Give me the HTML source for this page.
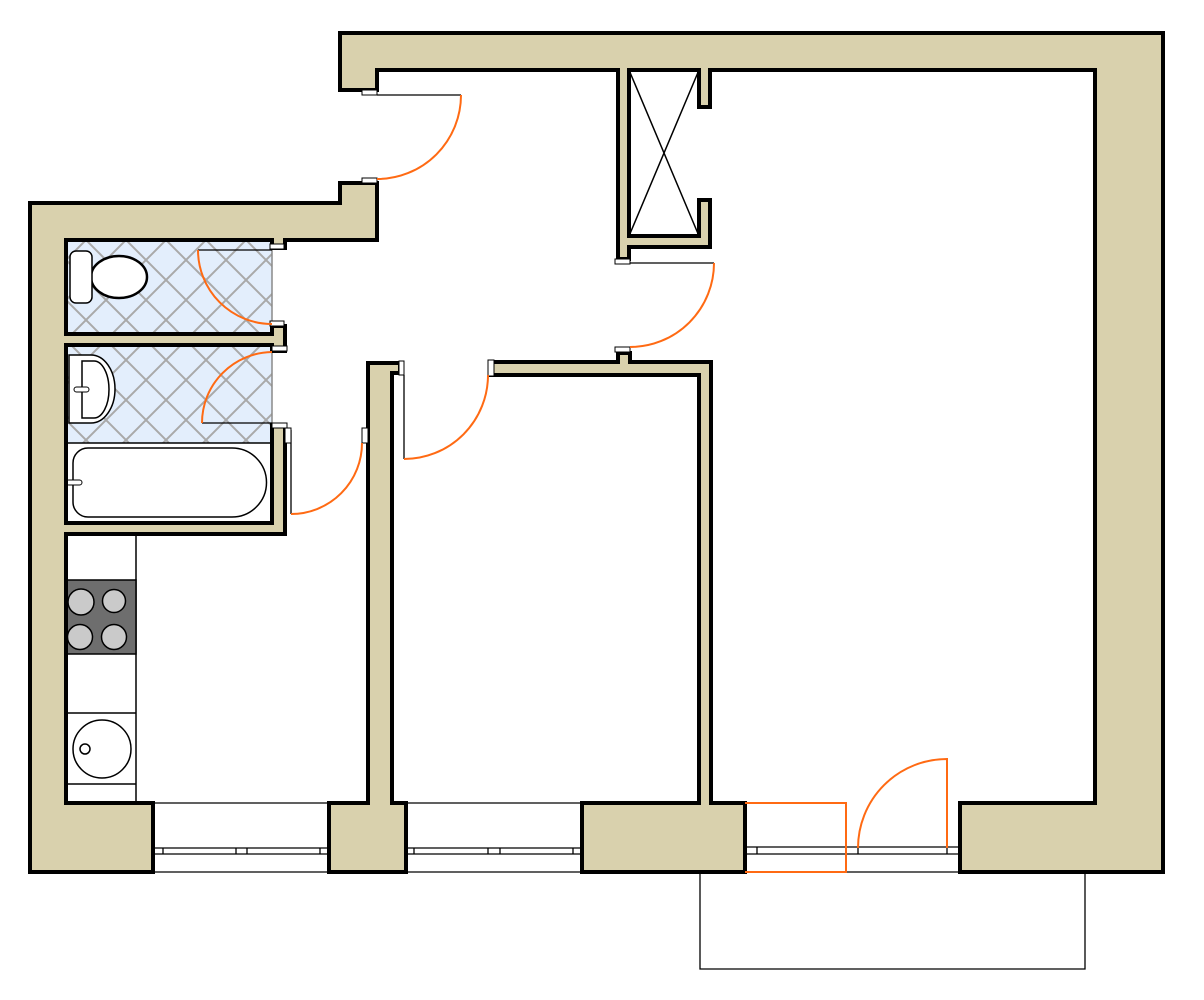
<!DOCTYPE html>
<html><head><meta charset="utf-8">
<style>html,body{margin:0;padding:0;background:#fff}svg{display:block}</style>
</head>
<body>
<svg width="1204" height="1000" viewBox="0 0 1204 1000" xmlns="http://www.w3.org/2000/svg">
<defs>
<pattern id="tile" patternUnits="userSpaceOnUse" width="40" height="40" x="6" y="0">
<rect width="40" height="40" fill="#e3eefc"/>
<path d="M-2 -2L42 42M42 -2L-2 42" stroke="#a9a9a9" stroke-width="2"/>
</pattern>
</defs>
<rect width="1204" height="1000" fill="#fff"/>

<!-- tiles -->
<rect x="66" y="240" width="206" height="94" fill="url(#tile)"/>
<rect x="66" y="345" width="206" height="98" fill="url(#tile)"/>
<path d="M272 246V328M272 349V428" stroke="#8a8a8a" stroke-width="1.5"/>

<!-- toilet -->
<ellipse cx="119" cy="277" rx="28" ry="21" fill="#fff" stroke="#000" stroke-width="2.5"/>
<rect x="70" y="251" width="22" height="52" rx="6" fill="#fff" stroke="#000" stroke-width="1.5"/>

<!-- sink -->
<path d="M69 355H91A24 34 0 0 1 91 423H69Z" fill="#fff" stroke="#000" stroke-width="1.5"/>
<path d="M82 361H94A15 28.5 0 0 1 94 418H82Z" fill="#fff" stroke="#000" stroke-width="1.5"/>
<rect x="74" y="387" width="15" height="5" rx="2.5" fill="#fff" stroke="#000" stroke-width="1"/>

<!-- bathtub -->
<rect x="66" y="443" width="206" height="80" fill="#fff" stroke="#000" stroke-width="1.5"/>
<path d="M88 448H232A34.5 34.5 0 0 1 232 517H88A15 15 0 0 1 73 502V463A15 15 0 0 1 88 448Z" fill="#fff" stroke="#000" stroke-width="1.5"/>
<rect x="66" y="480" width="16" height="5" rx="2.5" fill="#fff" stroke="#000" stroke-width="1"/>

<!-- kitchen counter -->
<g stroke="#000" stroke-width="1.5" fill="none">
<path d="M136 534V803"/>
<rect x="66" y="580" width="70" height="74" fill="#6e6e6e"/>
<path d="M66 713H136M66 784H136"/>
<circle cx="81" cy="602" r="13" fill="#cacaca"/>
<circle cx="114" cy="601" r="11.5" fill="#cacaca"/>
<circle cx="80" cy="637" r="12.5" fill="#cacaca"/>
<circle cx="114" cy="637" r="12.5" fill="#cacaca"/>
<circle cx="102" cy="749" r="29"/>
<circle cx="85" cy="749" r="5"/>
</g>

<!-- closet X -->
<path d="M629 70L699 236M699 70L629 236" stroke="#000" stroke-width="1.5"/>

<!-- walls -->
<g fill="#d9d1ad" stroke="#000" stroke-width="4" stroke-linejoin="miter">
<path d="M340 33H1163V872H960V803H1095V70H710V107H699V70H629V236H699V200H710V247H629V259H618V70H377V90H340Z"/>
<path d="M30 203H340V183H377V240H285V248H272V240H66V334H272V326H285V351H272V345H66V523H272V425H285V534H66V803H153V872H30Z"/>
<path d="M368 363H400V373H392V803H406V872H329V803H368Z"/>
<path d="M490 362H618V353H630V362H711V803H745V872H582V803H699V375H490Z"/>
</g>

<!-- windows -->
<g stroke="#000" stroke-width="1.3" fill="none">
<path d="M153 803H329M406 803H582"/>
<path d="M153 848H329M153 854H329M153 872H329"/>
<path d="M406 848H582M406 854H582M406 872H582"/>
<path d="M163 848V854M236 848V854M247 848V854M320 848V854"/>
<path d="M414 848V854M488 848V854M500 848V854M573 848V854"/>
<path d="M745 847H960M745 854H960M846 872H960"/>
<path d="M757 847V854M846 847V854M858 847V854M947 847V854"/>
<path d="M700 872V969H1085V872"/>
</g>

<!-- door leaves (black lines) -->
<g stroke="#000" stroke-width="1.3" fill="none">
<path d="M377 95H461"/>
<path d="M630 263H714"/>
<path d="M404 375V459"/>
<path d="M198 250H272"/>
<path d="M202 423H272"/>
<path d="M291 430V514"/>
</g>

<!-- door frames -->
<g fill="#fff" stroke="#000" stroke-width="1">
<rect x="362" y="90" width="15" height="5"/>
<rect x="362" y="178" width="15" height="5"/>
<rect x="615" y="259" width="15" height="5"/>
<rect x="615" y="347" width="15" height="5"/>
<rect x="399" y="361" width="5" height="14"/>
<rect x="488" y="360" width="6" height="16"/>
<rect x="270" y="244" width="14" height="5"/>
<rect x="270" y="321" width="14" height="5"/>
<rect x="272" y="346" width="15" height="5"/>
<rect x="272" y="423" width="15" height="5"/>
<rect x="285" y="428" width="6" height="15"/>
<rect x="362" y="428" width="6" height="15"/>
</g>

<!-- door swings (orange) -->
<g stroke="#ff6a13" stroke-width="2" fill="none">
<path d="M461 95A84 84 0 0 1 377 179"/>
<path d="M714 263A84 84 0 0 1 630 347"/>
<path d="M488 375A84 84 0 0 1 404 459"/>
<path d="M198 250A74 74 0 0 0 272 324"/>
<path d="M272 352A71 71 0 0 0 202 423"/>
<path d="M291 514A71 71 0 0 0 362 443"/>
<path d="M745 803H846V872H745"/>
<path d="M947 848V759A89 89 0 0 0 858 848"/>
</g>
</svg>
</body></html>
